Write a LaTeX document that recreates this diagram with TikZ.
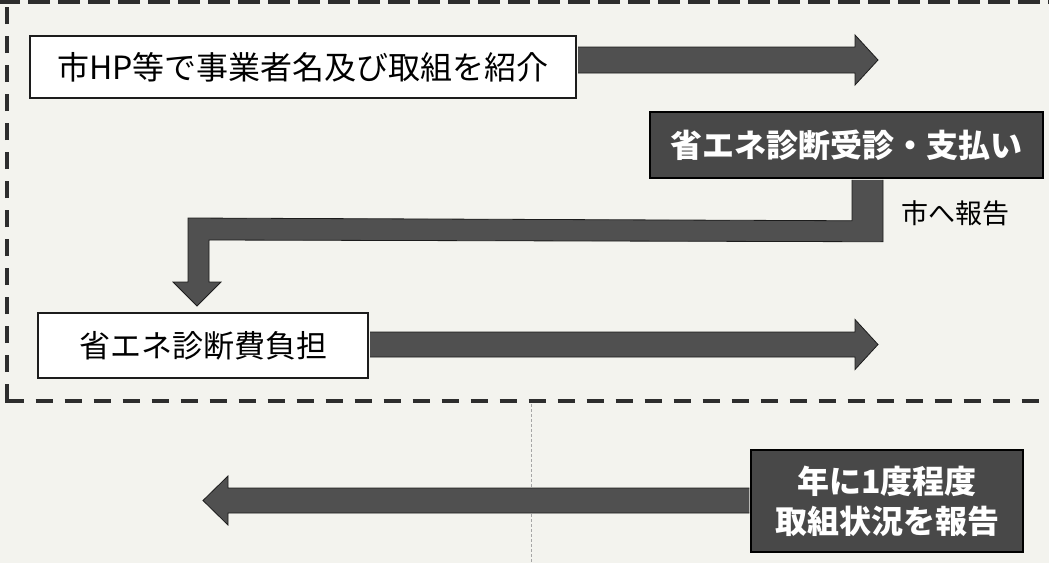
\documentclass[tikz,border=0pt]{standalone}
\usepackage{fontspec}
\newfontfamily\jp{Noto Sans CJK JP}
\usetikzlibrary{calc}
\definecolor{bg}{RGB}{243,243,238}
\definecolor{darkfill}{RGB}{72,72,72}
\definecolor{arrowfill}{RGB}{80,80,80}
\definecolor{edge}{RGB}{28,28,28}
\definecolor{framecol}{RGB}{45,45,45}
\tikzset{
  whitebox/.style={draw=edge, line width=2pt, fill=white, inner sep=0pt, text=black},
  darkbox/.style={draw=black, line width=1.5pt, fill=darkfill, inner sep=0pt, text=white, align=center},
  blockarrow/.style={fill=arrowfill, draw=edge, line width=0.8pt, line join=miter},
  framedash/.style={draw=framecol, line width=4pt, dash pattern=on 17pt off 12pt},
  plainlabel/.style={inner sep=0pt, text=black}
}
\begin{document}
\begin{tikzpicture}[x=1pt, y=-1pt]
\fill[bg] (0,0) rectangle (1049,563);
\useasboundingbox (0,0) rectangle (1049,563);

% faint fold line
\draw[gray!70, line width=0.7pt, dash pattern=on 3pt off 2pt] (531,404) -- (531,563);

% dashed frame
\draw[framedash] (6.5,401) -- (6.5,-10);
\draw[framedash] (6.5,401) -- (1060,401);
\fill[framecol] (4.5,399) rectangle (8.5,403);
\draw[draw=framecol, line width=4pt, dash pattern=on 22pt off 8pt] (-2,2) -- (1060,2);

% nodes
\node[whitebox, minimum width=546pt, minimum height=62pt,
      font=\jp\fontsize{32}{38}\selectfont] (box1) at (303,67) {市HP等で事業者名及び取組を紹介};
\node[darkbox, minimum width=393pt, minimum height=66pt,
      font=\jp\bfseries\fontsize{32}{38}\selectfont] (box2) at (846.5,145) {省エネ診断受診・支払い};
\node[whitebox, minimum width=330pt, minimum height=65pt,
      font=\jp\fontsize{31}{36}\selectfont] (box3) at (203,345.5) {省エネ診断費負担};
\node[darkbox, minimum width=272pt, minimum height=102pt,
      font=\jp\bfseries\fontsize{32}{40}\selectfont] (box4) at (887,501) {年に1度程度\\取組状況を報告};
\node[plainlabel, font=\jp\fontsize{27}{30}\selectfont] (lbl) at (955,213) {市へ報告};

% arrow 1: box1 -> right
\coordinate (t1) at (878,60);
\draw[blockarrow] ($(box1.east|-t1)+(1,-13)$) -- ($(t1)+(-23,-13)$) -- ($(t1)+(-23,-25)$)
  -- (t1) -- ($(t1)+(-23,25)$) -- ($(t1)+(-23,13)$) -- ($(box1.east|-t1)+(1,13)$);

% elbow arrow: box2 -> box3
\coordinate (t2) at ($(box3.north)+(-6,-6)$);
\draw[blockarrow] ($(box2.south)+(5.5,1)$) -- ($(box2.south)+(5.5,42)$) -- ($(t2)+(-9,-88)$)
  -- ($(t2)+(-9,-24)$) -- ($(t2)+(-24,-24)$) -- (t2) -- ($(t2)+(24,-24)$) -- ($(t2)+(12,-24)$)
  -- ($(t2)+(12,-66)$) -- ($(box2.south)+(36.5,63)$) -- ($(box2.south)+(36.5,1)$);

% arrow 2: box3 -> right
\coordinate (t3) at (878,344.5);
\draw[blockarrow] ($(box3.east|-t3)+(1,-12.5)$) -- ($(t3)+(-23,-12.5)$) -- ($(t3)+(-23,-25)$)
  -- (t3) -- ($(t3)+(-23,25)$) -- ($(t3)+(-23,12.5)$) -- ($(box3.east|-t3)+(1,12.5)$);

% arrow 4: box4 -> left
\coordinate (t4) at (203,500.5);
\draw[blockarrow] ($(box4.west|-t4)+(-1,-12.5)$) -- ($(t4)+(25,-12.5)$) -- ($(t4)+(25,-24.5)$)
  -- (t4) -- ($(t4)+(25,24.5)$) -- ($(t4)+(25,12.5)$) -- ($(box4.west|-t4)+(-1,12.5)$);
\end{tikzpicture}
\end{document}
